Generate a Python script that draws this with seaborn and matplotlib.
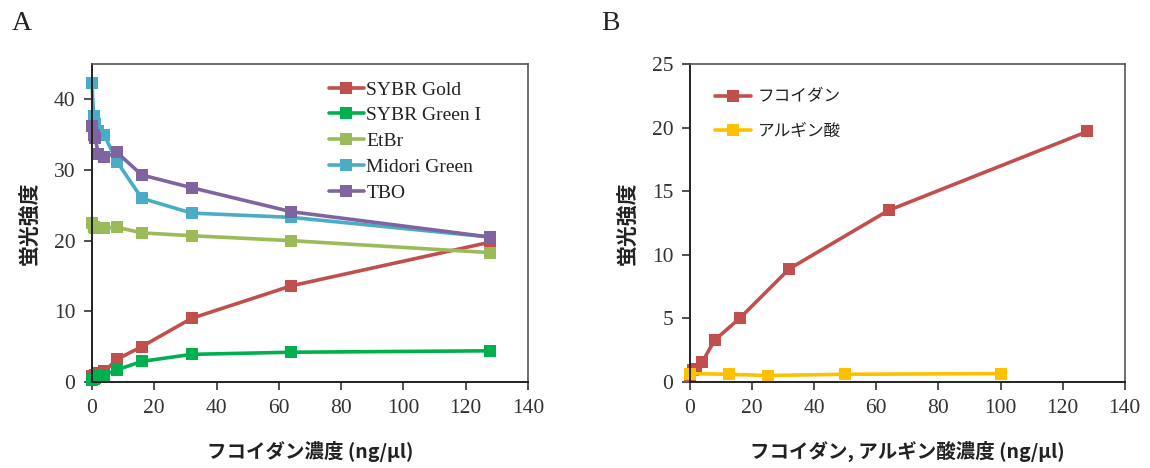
import matplotlib
matplotlib.use("Agg")
import matplotlib.pyplot as plt
import numpy as np
import pandas as pd
import seaborn as sns

# --- Panel A: dye fluorescence vs fucoidan concentration ---
conc_a = [0, 0.5, 1, 2, 4, 8, 16, 32, 64, 128]
dye_names = ["SYBR Gold", "SYBR Green I", "EtBr", "Midori Green", "TBO"]
sybr_gold = [0.8, 0.9, 1.0, 1.3, 1.5, 3.2, 5.0, 9.0, 13.6, 19.8]
sybr_green = [0.3, 0.4, 0.5, 0.8, 1.0, 1.7, 2.9, 3.9, 4.2, 4.4]
etbr = [22.5, 22.0, 21.8, 21.8, 21.8, 21.9, 21.1, 20.7, 20.0, 18.3]
midori_green = [42.3, 37.6, 36.5, 35.5, 34.9, 31.2, 26.0, 23.9, 23.3, 20.5]
tbo = [36.2, 35.0, 34.6, 32.3, 31.8, 32.5, 29.3, 27.5, 24.1, 20.5]
dye_colors = ["#C0504D", "#00B050", "#9BBB59", "#4BACC6", "#8064A2"]

# --- Panel B: SYBR Gold with fucoidan vs alginic acid ---
conc_fuc = [0, 1, 2, 4, 8, 16, 32, 64, 128]
fucoidan = [0.5, 0.9, 1.0, 1.6, 3.3, 5.0, 8.9, 13.5, 19.7]
conc_alg = [0, 12.5, 25, 50, 100]
alginate = [0.65, 0.6, 0.5, 0.6, 0.65]
poly_names = ["フコイダン", "アルギン酸"]
poly_colors = ["#C0504D", "#FFC000"]

xticks = [0, 20, 40, 60, 80, 100, 120, 140]

df_a = pd.concat([
    pd.DataFrame({"conc": conc_a, "val": vals, "dye": name})
    for name, vals in zip(dye_names, [sybr_gold, sybr_green, etbr, midori_green, tbo])
], ignore_index=True)
df_b = pd.concat([
    pd.DataFrame({"conc": conc_fuc, "val": fucoidan, "poly": poly_names[0]}),
    pd.DataFrame({"conc": conc_alg, "val": alginate, "poly": poly_names[1]}),
], ignore_index=True)

sns.set_theme(style="white")
serif = ["Liberation Serif", "DejaVu Serif"]
cjk = ["Noto Sans CJK JP", "DejaVu Sans"]
plt.rcParams["font.family"] = serif

fig = plt.figure(figsize=(11.5, 4.68), dpi=100)
ax_a = fig.add_axes([0.080, 0.184, 0.379, 0.679])
ax_b = fig.add_axes([0.600, 0.184, 0.378, 0.679])

line_kw = dict(marker="s", markersize=8, markeredgewidth=0, linewidth=2.6,
               sort=False, clip_on=False)

sns.lineplot(data=df_a, x="conc", y="val", hue="dye", hue_order=dye_names,
             palette=dye_colors, ax=ax_a, **line_kw)
sns.lineplot(data=df_b, x="conc", y="val", hue="poly", hue_order=poly_names,
             palette=poly_colors, ax=ax_b, **line_kw)

ax_a.set_ylim(0, 45)
ax_a.set_yticks([0, 10, 20, 30, 40])
ax_b.set_ylim(0, 25)
ax_b.set_yticks([0, 5, 10, 15, 20, 25])

for ax, xlabel in [(ax_a, "フコイダン濃度 (ng/μl)"), (ax_b, "フコイダン, アルギン酸濃度 (ng/μl)")]:
    ax.set_xlim(0, 140)
    ax.set_xticks(xticks)
    ax.tick_params(axis="both", which="both", direction="out", length=6, width=1.2,
                   color="#333333", labelsize=15.5, labelcolor="#333333", pad=6,
                   bottom=True, left=True)
    for lab in ax.get_xticklabels() + ax.get_yticklabels():
        lab.set_family(serif)
    for side in ["left", "bottom"]:
        ax.spines[side].set_color("#222222")
        ax.spines[side].set_linewidth(1.4)
    for side in ["top", "right"]:
        ax.spines[side].set_color("#555555")
        ax.spines[side].set_linewidth(1.2)
    ax.set_xlabel(xlabel, fontsize=14, fontweight="bold", family=cjk, color="#222222", labelpad=17)
    ax.set_ylabel("蛍光強度", fontsize=15, fontweight="bold", family=cjk, color="#222222", labelpad=10)

sns.move_legend(ax_a, "upper right", bbox_to_anchor=(0.925, 0.99), frameon=False, title=None,
                prop={"family": serif, "size": 14}, handlelength=1.8, labelspacing=0.42,
                handletextpad=0.15, borderaxespad=0.3)
sns.move_legend(ax_b, "upper left", bbox_to_anchor=(0.03, 0.96), frameon=False, title=None,
                prop={"family": cjk, "size": 12}, handlelength=2.2, labelspacing=1.05,
                handletextpad=0.4, borderaxespad=0.3)
for leg in [ax_a.get_legend(), ax_b.get_legend()]:
    for t in leg.get_texts():
        t.set_color("#222222")

fig.text(0.010, 0.935, "A", fontsize=20, family=serif, color="#222222")
fig.text(0.523, 0.935, "B", fontsize=20, family=serif, color="#222222")

fig.savefig("out.png", dpi=100, facecolor="white")
